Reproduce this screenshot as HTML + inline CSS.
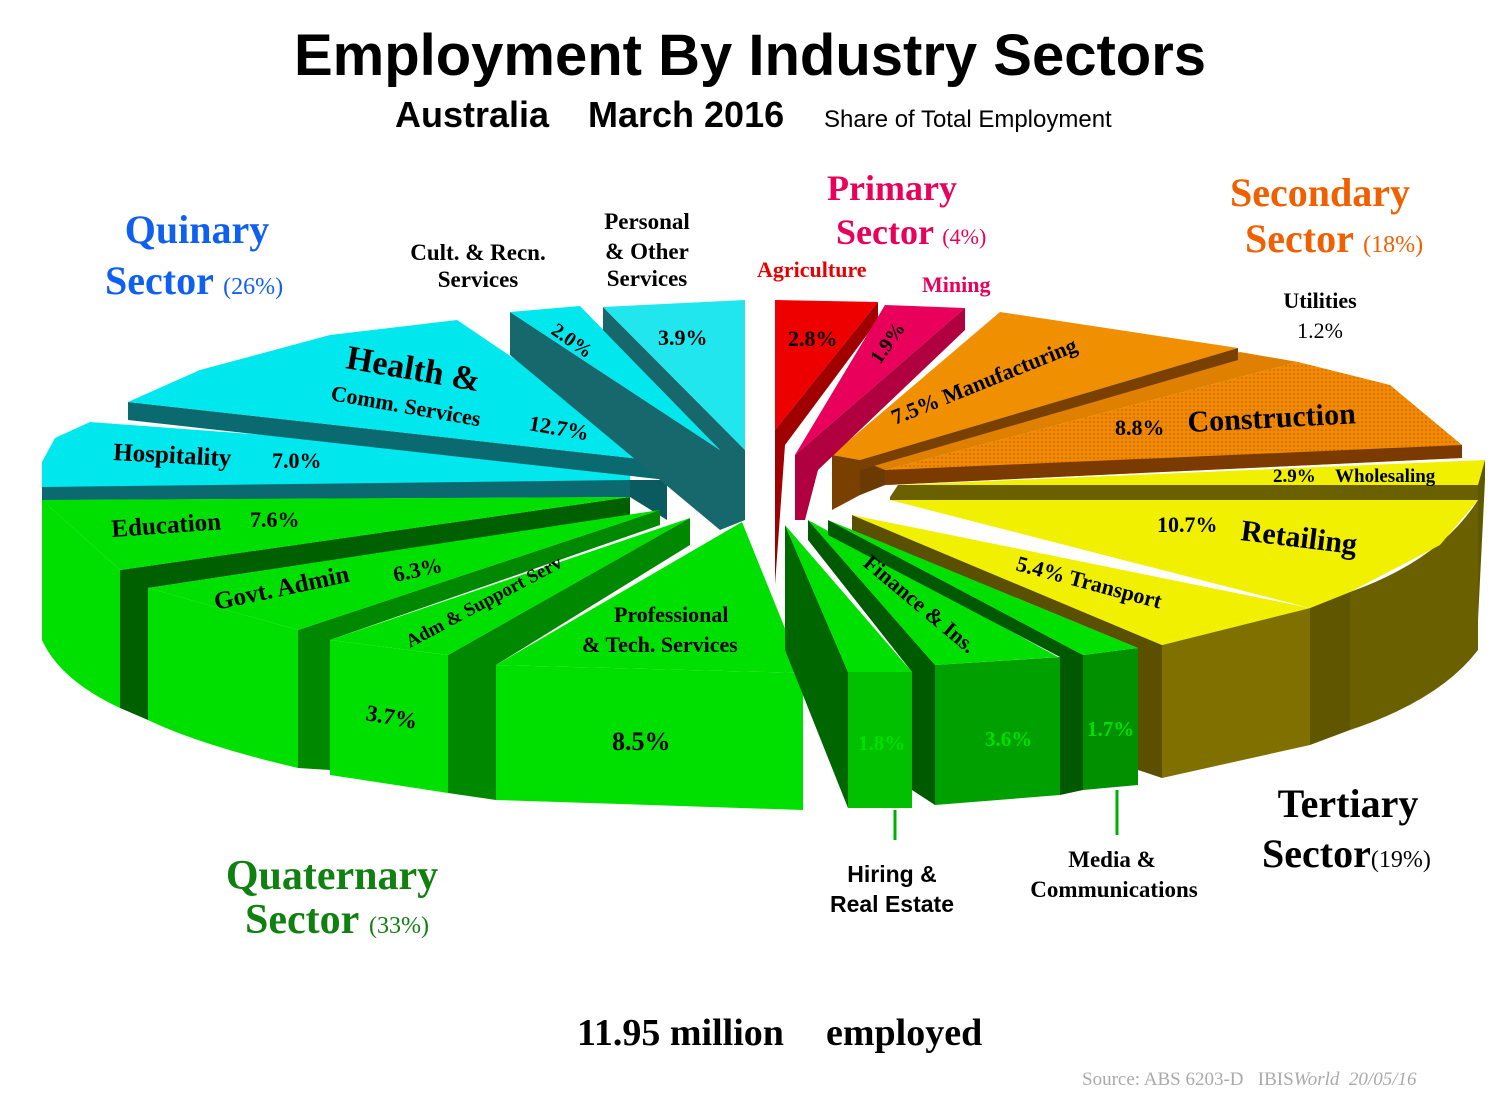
<!DOCTYPE html>
<html><head><meta charset="utf-8"><style>
html,body{margin:0;padding:0;background:#fff}
svg{display:block}
.s{font-family:"Liberation Serif",serif;font-weight:bold}
.a{font-family:"Liberation Sans",sans-serif;font-weight:bold}
</style></head><body>
<svg width="1508" height="1119" viewBox="0 0 1508 1119" xmlns="http://www.w3.org/2000/svg">
<defs>
<pattern id="dots" width="4" height="4" patternUnits="userSpaceOnUse"><rect width="4" height="4" fill="#f08a00"/><circle cx="2" cy="2" r="0.9" fill="#d06000"/></pattern>
</defs>
<rect width="1508" height="1119" fill="#fff"/>
<text x="750" y="75" text-anchor="middle" class="a" font-size="58">Employment By Industry Sectors</text>
<text x="395" y="127" class="a" font-size="36">Australia</text>
<text x="588" y="127" class="a" font-size="36">March 2016</text>
<text x="824" y="127" font-family="Liberation Sans,sans-serif" font-size="24">Share of Total Employment</text>

<!-- QUINARY -->
<polygon points="42,462 42,620 48,640 48,500 630,497 630,480" fill="#0a5a6a"/>
<polygon points="42,487 630,480 630,497 42,500" fill="#0a6a70"/>
<polygon points="42,462 55,438 90,422 630,462 630,480 42,487" fill="#00e8ee"/>
<polygon points="128,402 128,420 667,480 667,462" fill="#0a6a70"/>
<polygon points="128,402 200,370 330,335 457,320 667,462" fill="#00e8ee"/>
<polygon points="667,462 667,520 630,497 630,480 667,480" fill="#0a5a60"/>
<polygon points="510,312 510,355 720,530 720,450" fill="#17686c"/>
<polygon points="510,312 580,306 720,450" fill="#00e8ee"/>
<polygon points="603,307 603,330 720,450 720,530 745,520 745,450" fill="#17686c"/>
<polygon points="603,307 745,300 745,450" fill="#22e6ee"/>

<!-- QUATERNARY -->
<path d="M42,500 L120,570 L120,708 Q60,680 42,640 Z" fill="#00e000"/>
<polygon points="120,570 630,497 630,515 148,588 148,720 120,708" fill="#006000"/>
<polygon points="42,500 630,497 120,570" fill="#00e000"/>
<path d="M148,588 L298,630 L298,768 Q200,745 148,720 Z" fill="#00e000"/>
<polygon points="298,630 660,510 660,525 330,640 330,770 298,768" fill="#008800"/>
<polygon points="148,588 660,510 298,630" fill="#00e000"/>
<polygon points="330,640 448,655 448,793 330,775" fill="#00e000"/>
<polygon points="448,655 690,518 690,545 496,665 496,800 448,793" fill="#008800"/>
<polygon points="330,640 690,518 448,655" fill="#00e000"/>
<polygon points="496,665 803,673 803,810 496,800" fill="#00e000"/>
<polygon points="496,665 742,522 803,673" fill="#00e000"/>
<polygon points="785,525 848,672 848,808 785,650" fill="#006600"/>
<polygon points="848,672 912,672 912,808 848,808" fill="#00c000"/>
<polygon points="785,525 912,672 848,672" fill="#00e000"/>
<polygon points="808,520 935,665 935,805 912,790 912,672 808,540" fill="#005a00"/>
<polygon points="935,665 1060,657 1060,795 935,805" fill="#00a000"/>
<polygon points="808,520 1058,657 935,665" fill="#00e000"/>
<polygon points="828,520 1083,655 1083,790 1060,795 1060,657 828,535" fill="#005800"/>
<polygon points="1083,655 1138,648 1138,785 1083,790" fill="#009000"/>
<polygon points="828,520 1138,648 1083,655" fill="#00e000"/>

<!-- TERTIARY -->
<polygon points="852,515 1162,645 1162,778 1138,770 1138,648 852,530" fill="#5a5000"/>
<polygon points="1162,645 1310,608 1310,745 1162,778" fill="#807000"/>
<polygon points="852,515 1310,608 1162,645" fill="#f0f000"/>
<path d="M1350,592 Q1440,560 1478,500 L1478,650 Q1440,700 1350,730 Z" fill="#6a6000"/>
<polygon points="1310,608 1350,592 1350,730 1310,745" fill="#605600"/>
<polygon points="890,500 1478,500 1440,545 1350,592 1310,608" fill="#f0f000"/>
<polygon points="898,485 1485,460 1478,485" fill="#f0f000"/>
<polygon points="1478,485 1485,460 1485,480 1478,620" fill="#605800"/>
<polygon points="898,485 1478,485 1478,500 890,500 890,497" fill="#6a6000"/>

<!-- SECONDARY -->
<polygon points="885,470 1298,362 1390,385 1462,445 1462,458 885,485" fill="url(#dots)"/>
<polygon points="885,470 1462,445 1462,458 885,485" fill="#7a3a00"/>
<polygon points="860,460 1240,352 1298,362 885,470 885,485 860,495" fill="#e08000"/>
<polygon points="860,460 860,495 885,485 885,470" fill="#6a3a00"/>
<polygon points="832,455 1000,312 1238,348 860,460" fill="#f09000"/>
<polygon points="832,455 832,510 860,495 860,460" fill="#7a4000"/>
<polygon points="860,460 1238,348 1238,360 860,470" fill="#7a4000"/>

<!-- PRIMARY -->
<polygon points="775,300 878,302 775,430" fill="#ee0000"/>
<polygon points="775,430 878,302 878,320 785,445 775,585" fill="#a00000"/>
<polygon points="885,305 965,308 795,455" fill="#e8005a"/>
<polygon points="795,455 965,308 965,330 818,470 805,520 795,520" fill="#b00040"/>

<!-- pie labels -->
<g class="s" fill="#000">
<text x="658" y="345" font-size="22">3.9%</text>
<text x="550" y="333" font-size="20" transform="rotate(35 550 333)">2.0%</text>
<text x="345" y="368" font-size="34" transform="rotate(10 345 368)">Health &amp;</text>
<text x="330" y="400" font-size="22" transform="rotate(10 330 400)">Comm. Services</text>
<text x="528" y="430" font-size="22" transform="rotate(10 528 430)">12.7%</text>
<text x="113" y="460" font-size="25" transform="rotate(3 113 460)">Hospitality</text>
<text x="272" y="468" font-size="22">7.0%</text>
<text x="112" y="537" font-size="25" transform="rotate(-4 112 537)">Education</text>
<text x="250" y="527" font-size="22">7.6%</text>
<text x="216" y="610" font-size="25" transform="rotate(-12 216 610)">Govt. Admin</text>
<text x="395" y="582" font-size="22" transform="rotate(-12 395 582)">6.3%</text>
<text x="410" y="648" font-size="19" transform="rotate(-28 410 648)">Adm &amp; Support Serv</text>
<text x="614" y="622" font-size="22">Professional</text>
<text x="582" y="652" font-size="22">&amp; Tech. Services</text>
<text x="365" y="720" font-size="23" transform="rotate(10 365 720)">3.7%</text>
<text x="612" y="750" font-size="26">8.5%</text>
<text x="858" y="750" font-size="21" fill="#00e000">1.8%</text>
<text x="985" y="746" font-size="21" fill="#00e000">3.6%</text>
<text x="1087" y="736" font-size="21" fill="#00e000">1.7%</text>
<text x="862" y="565" font-size="22" transform="rotate(40 862 565)">Finance &amp; Ins.</text>
<text x="1015" y="570" font-size="22" transform="rotate(15 1015 570)">5.4% Transport</text>
<text x="1157" y="532" font-size="22">10.7%</text>
<text x="1240" y="540" font-size="30" transform="rotate(7 1240 540)">Retailing</text>
<text x="1273" y="482" font-size="19">2.9%</text>
<text x="1335" y="482" font-size="19">Wholesaling</text>
<text x="1115" y="435" font-size="22">8.8%</text>
<text x="1188" y="432" font-size="30" transform="rotate(-3 1188 432)">Construction</text>
<text x="895" y="425" font-size="22" transform="rotate(-22 895 425)">7.5% Manufacturing</text>
<text x="788" y="346" font-size="22">2.8%</text>
<text x="880" y="365" font-size="20" transform="rotate(-55 880 365)">1.9%</text>
</g>

<!-- outer labels -->
<g class="s">
<text x="197" y="243" text-anchor="middle" font-size="40" fill="#1060f0">Quinary</text>
<text x="105" y="294" font-size="40" fill="#1060f0">Sector <tspan font-size="24" font-weight="normal">(26%)</tspan></text>
<text x="478" y="260" text-anchor="middle" font-size="23">Cult. &amp; Recn.</text>
<text x="478" y="287" text-anchor="middle" font-size="23">Services</text>
<text x="647" y="229" text-anchor="middle" font-size="23">Personal</text>
<text x="647" y="259" text-anchor="middle" font-size="23">&amp; Other</text>
<text x="647" y="286" text-anchor="middle" font-size="23">Services</text>
<text x="892" y="200" text-anchor="middle" font-size="36" fill="#e8005a">Primary</text>
<text x="836" y="244" font-size="36" fill="#e8005a">Sector <tspan font-size="22" font-weight="normal">(4%)</tspan></text>
<text x="757" y="277" font-size="22" fill="#e80000">Agriculture</text>
<text x="922" y="292" font-size="22" fill="#e8005a">Mining</text>
<text x="1320" y="206" text-anchor="middle" font-size="40" fill="#f06000">Secondary</text>
<text x="1245" y="252" font-size="40" fill="#f06000">Sector <tspan font-size="24" font-weight="normal">(18%)</tspan></text>
<text x="1320" y="308" text-anchor="middle" font-size="22">Utilities</text>
<text x="1320" y="338" text-anchor="middle" font-size="22" font-weight="normal">1.2%</text>
<text x="1348" y="817" text-anchor="middle" font-size="40">Tertiary</text>
<text x="1262" y="867" font-size="40">Sector<tspan font-size="24" font-weight="normal">(19%)</tspan></text>
<text x="332" y="889" text-anchor="middle" font-size="42" fill="#108010">Quaternary</text>
<text x="245" y="933" font-size="42" fill="#108010">Sector <tspan font-size="24" font-weight="normal">(33%)</tspan></text>
<text x="1112" y="867" text-anchor="middle" font-size="23">Media &amp;</text>
<text x="1114" y="897" text-anchor="middle" font-size="23">Communications</text>
<text x="577" y="1045" font-size="38">11.95 million</text>
<text x="826" y="1045" font-size="38">employed</text>
</g>
<line x1="895" y1="810" x2="895" y2="840" stroke="#00b000" stroke-width="3"/>
<line x1="1117" y1="790" x2="1117" y2="835" stroke="#00b000" stroke-width="3"/>
<text x="892" y="882" text-anchor="middle" class="a" font-size="23">Hiring &amp;</text>
<text x="892" y="912" text-anchor="middle" class="a" font-size="23">Real Estate</text>
<text x="1082" y="1085" font-family="Liberation Serif,serif" font-size="19" fill="#aaa">Source: ABS 6203-D &#160;&#160;IBIS<tspan font-style="italic">World &#160;20/05/16</tspan></text>
</svg>
</body></html>
